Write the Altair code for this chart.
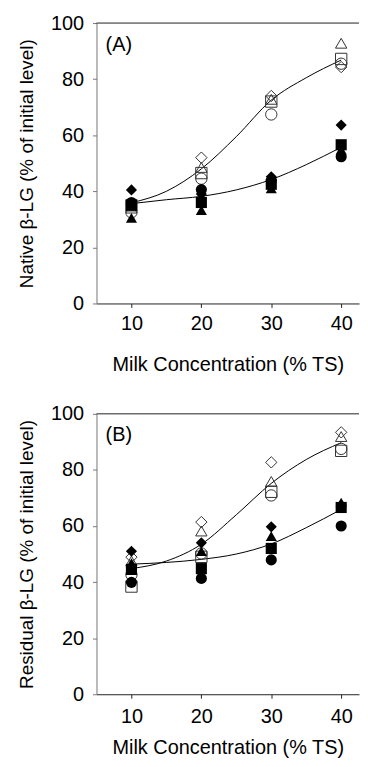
import altair as alt
import pandas as pd

# ---------------- data ----------------
conc = [10, 20, 30, 40]
shapes = ["circle", "square", "triangle", "diamond"]

# Panel A: native beta-LG (% of initial level)
a_open = {
    "circle":   [32.5, 44.5, 67.4, 85.5],
    "square":   [35.0, 46.5, 72.0, 87.2],
    "triangle": [34.0, 48.5, 72.8, 92.8],
    "diamond":  [35.5, 52.0, 74.0, 84.3],
}
a_filled = {
    "circle":   [36.0, 40.6, 43.8, 52.3],
    "square":   [35.0, 36.0, 42.5, 56.6],
    "triangle": [30.5, 33.3, 41.0, 54.8],
    "diamond":  [40.5, 39.0, 45.2, 63.6],
}
# Panel B: residual beta-LG (% of initial level)
b_open = {
    "circle":   [42.6, 50.2, 70.9, 87.5],
    "square":   [38.4, 49.0, 72.2, 86.8],
    "triangle": [47.5, 58.2, 75.9, 91.9],
    "diamond":  [48.9, 61.4, 82.7, 93.4],
}
b_filled = {
    "circle":   [39.9, 41.3, 47.9, 60.0],
    "square":   [44.5, 44.8, 52.0, 66.6],
    "triangle": [46.8, 51.0, 56.4, 68.4],
    "diamond":  [51.0, 54.0, 59.7, 67.3],
}

# fitted curves
curve_x = [10, 15, 20, 25, 30, 35, 40]
a_curve_open = [35.9, 40.0, 48.0, 59.5, 72.5, 80.5, 86.8]
a_curve_filled = [35.6, 37.0, 38.2, 40.5, 44.2, 49.5, 55.7]
b_curve_open = [44.8, 47.5, 53.5, 64.0, 75.2, 83.7, 89.7]
b_curve_filled = [46.4, 47.0, 48.1, 50.0, 53.6, 59.4, 65.9]

y_ticks = [0, 20, 40, 60, 80, 100]
x_ticks = [10, 20, 30, 40]
x_title = "Milk Concentration (% TS)"
panel_tags = ["(A)", "(B)"]
y_titles = ["Native β-LG (% of initial level)", "Residual β-LG (% of initial level)"]

FONT = "Liberation Sans"
FS = 20
shape_range = ["circle", "square", "triangle-up", "diamond"]


def points_frame(series):
    rows = []
    for s in shapes:
        for c, v in zip(conc, series[s]):
            rows.append({"conc": c, "value": v, "shape": s})
    return pd.DataFrame(rows)


def curves_frame(open_curve, filled_curve):
    rows = []
    for name, ys in (("open", open_curve), ("filled", filled_curve)):
        for c, v in zip(curve_x, ys):
            rows.append({"conc": c, "value": v, "curve": name})
    return pd.DataFrame(rows)


def panel(open_s, filled_s, c_open, c_filled, tag, ytitle, x_lp, x_tp):
    xs = alt.Scale(domain=[5, 42.55], nice=False)
    ys = alt.Scale(domain=[0, 100], nice=False)
    xenc = alt.X("conc:Q", scale=xs,
                 axis=alt.Axis(values=x_ticks, title=x_title, grid=False,
                               tickSize=4, labelPadding=x_lp, titlePadding=x_tp,
                               titleFontSize=FS,
                               domainColor="#222", tickColor="#222"))
    yenc = alt.Y("value:Q", scale=ys,
                 axis=alt.Axis(values=y_ticks, title=ytitle, grid=False,
                               tickSize=4, labelPadding=9, titlePadding=14,
                               titleFontSize=19,
                               domainColor="#777", tickColor="#777"))
    shape_enc = alt.Shape("shape:N", scale=alt.Scale(domain=shapes, range=shape_range),
                          legend=None)

    top = alt.Chart(pd.DataFrame({"v": [100]})).mark_rule(
        color="#222", strokeWidth=1).encode(y=alt.Y("v:Q", scale=ys))

    lines = alt.Chart(curves_frame(c_open, c_filled)).mark_line(
        color="black", strokeWidth=1, interpolate="monotone").encode(
        x=xenc, y=yenc, detail="curve:N")

    opn = alt.Chart(points_frame(open_s)).mark_point(
        filled=False, stroke="#333", strokeWidth=1, size=130, opacity=1).encode(
        x=xenc, y=yenc, shape=shape_enc)

    fil = alt.Chart(points_frame(filled_s)).mark_point(
        filled=True, color="black", size=125, opacity=1).encode(
        x=xenc, y=yenc, shape=shape_enc)

    label = alt.Chart(pd.DataFrame({"t": [tag]})).mark_text(
        align="left", baseline="middle", fontSize=FS, font=FONT, color="black").encode(
        x=alt.datum(6.3), y=alt.datum(92.3), text="t:N")

    return alt.layer(top, lines, opn, fil, label).properties(width=264, height=282)


pa = panel(a_open, a_filled, a_curve_open, a_curve_filled, panel_tags[0], y_titles[0], 6, 21)
pb = panel(b_open, b_filled, b_curve_open, b_curve_filled, panel_tags[1], y_titles[1], 8, 12)

chart = alt.vconcat(pa, pb, spacing=30).properties(
    padding={"left": 9, "top": 3, "right": 0, "bottom": 0}
).configure_view(stroke=None).configure_axis(
    labelFont=FONT, titleFont=FONT, labelFontSize=FS,
    labelColor="black", titleColor="black", titleFontWeight="normal"
)

chart.save("out.html", embed_options={"renderer": "svg", "actions": False})
